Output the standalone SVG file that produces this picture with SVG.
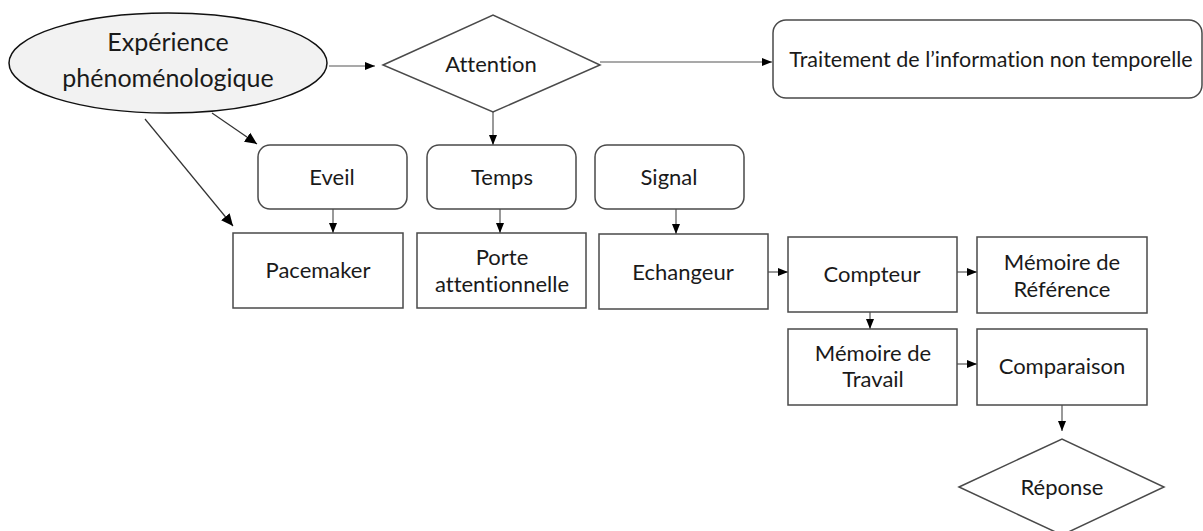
<svg xmlns="http://www.w3.org/2000/svg" width="1203" height="531" viewBox="0 0 1203 531">
<style>
.box{fill:#fff;stroke:#4a4a4a;stroke-width:1.5}
.ell{fill:#f2f2f2;stroke:#111;stroke-width:1.5}
.lbl{font-family:Lato,"Liberation Sans",Arial,sans-serif;font-size:22px;fill:#1a1a1a;text-anchor:middle;font-variant-ligatures:none;font-feature-settings:"liga" 0}
.big{font-size:25px}
.c{stroke:#555;stroke-width:1.2;fill:none;marker-end:url(#ah)}
.cl{stroke:#333;stroke-width:1.2;fill:none;marker-end:url(#ahl)}
</style>
<defs>
<marker id="ah" markerUnits="userSpaceOnUse" markerWidth="10" markerHeight="10" viewBox="0 0 8 8" refX="8" refY="4" orient="auto">
<path d="M0,0.8 L8,4 L0,7.2 Z" fill="#000"/>
</marker>
<marker id="ahl" markerUnits="userSpaceOnUse" markerWidth="12" markerHeight="12" viewBox="0 0 12 12" refX="12" refY="6" orient="auto">
<path d="M0,0.5 L12,6 L0,11.5 Z" fill="#000"/>
</marker>
</defs>
<rect width="1203" height="531" fill="#fff"/>
<g id="connectors">
<line class="c" x1="329" y1="66" x2="375" y2="66"/>
<line class="c" x1="600" y1="62" x2="772" y2="62"/>
<line class="c" x1="493" y1="112" x2="493" y2="145"/>
<line class="cl" x1="212" y1="113" x2="257" y2="144"/>
<line class="cl" x1="145" y1="119" x2="233" y2="226"/>
<line class="c" x1="333" y1="209" x2="333" y2="233"/>
<line class="c" x1="500" y1="209" x2="500" y2="233"/>
<line class="c" x1="676" y1="209" x2="676" y2="234"/>
<line class="c" x1="768" y1="272" x2="788" y2="272"/>
<line class="c" x1="957" y1="272" x2="977" y2="272"/>
<line class="c" x1="870" y1="312" x2="870" y2="329"/>
<line class="c" x1="957" y1="364" x2="977" y2="364"/>
<line class="c" x1="1062" y1="405" x2="1062" y2="431"/>
</g>
<g id="experience">
<ellipse class="ell" cx="168" cy="63" rx="159" ry="50"/>
<text class="lbl big" x="168" y="51">Expérience</text>
<text class="lbl big" x="168" y="87">phénoménologique</text>
</g>
<g id="attention">
<polygon class="box" points="383,65 493,15 600,65 493,112"/>
<text class="lbl" x="491" y="72">Attention</text>
</g>
<g id="traitement">
<rect class="box" x="773" y="20" width="429" height="78" rx="13"/>
<text class="lbl" x="991" y="67" style="font-size:21.5px">Traitement de l’information non temporelle</text>
</g>
<g id="eveil">
<rect class="box" x="258" y="145" width="149" height="64" rx="12"/>
<text class="lbl" x="332" y="185">Eveil</text>
</g>
<g id="temps">
<rect class="box" x="427" y="145" width="149" height="64" rx="12"/>
<text class="lbl" x="502" y="185">Temps</text>
</g>
<g id="signal">
<rect class="box" x="595" y="145" width="149" height="64" rx="12"/>
<text class="lbl" x="669" y="185">Signal</text>
</g>
<g id="pacemaker">
<rect class="box" x="233" y="233" width="170" height="75"/>
<text class="lbl" x="318" y="278">Pacemaker</text>
</g>
<g id="porte">
<rect class="box" x="417" y="233" width="169" height="75"/>
<text class="lbl" x="502" y="265">Porte</text>
<text class="lbl" x="502" y="292">attentionnelle</text>
</g>
<g id="echangeur">
<rect class="box" x="599" y="234" width="169" height="75"/>
<text class="lbl" x="683" y="280">Echangeur</text>
</g>
<g id="compteur">
<rect class="box" x="788" y="237" width="169" height="75"/>
<text class="lbl" x="872" y="282">Compteur</text>
</g>
<g id="memoire-reference">
<rect class="box" x="977" y="237" width="170" height="76"/>
<text class="lbl" x="1062" y="270">Mémoire de</text>
<text class="lbl" x="1062" y="297">Référence</text>
</g>
<g id="memoire-travail">
<rect class="box" x="788" y="329" width="169" height="76"/>
<text class="lbl" x="873" y="361">Mémoire de</text>
<text class="lbl" x="873" y="387">Travail</text>
</g>
<g id="comparaison">
<rect class="box" x="977" y="329" width="170" height="76"/>
<text class="lbl" x="1062" y="374">Comparaison</text>
</g>
<g id="reponse">
<polygon class="box" points="959,487 1062,439 1164,487 1062,535"/>
<text class="lbl" x="1062" y="495">Réponse</text>
</g>
</svg>
